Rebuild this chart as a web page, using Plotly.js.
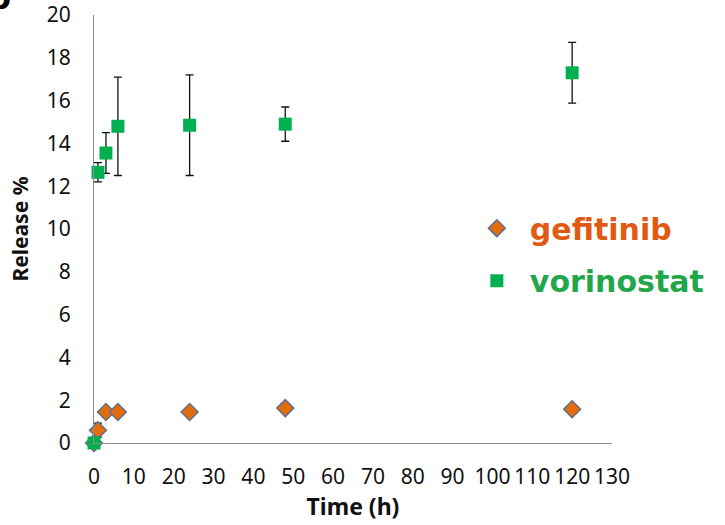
<!DOCTYPE html>
<html>
<head>
<meta charset="utf-8">
<script src="https://cdn.plot.ly/plotly-3.0.1.min.js"></script>
<style>html,body{margin:0;padding:0;background:#fff;}#chart{width:725px;height:525px;}</style>
</head>
<body>
<div id="chart"></div>
<script>
// Data
var timeH = [0, 1, 3, 6, 24, 48, 120];
var gefitinib = [0, 0.6, 1.45, 1.45, 1.45, 1.63, 1.58];
var gefitinibErr = [0, 0.33, 0.1, 0.1, 0.1, 0.1, 0.1];
var vorinostat = [0, 12.65, 13.55, 14.8, 14.85, 14.9, 17.3];
var vorinostatErr = [0, 0.45, 0.95, 2.3, 2.35, 0.8, 1.42];
var xTicks = [0, 10, 20, 30, 40, 50, 60, 70, 80, 90, 100, 110, 120, 130];
var yTicks = [0, 2, 4, 6, 8, 10, 12, 14, 16, 18, 20];

var traces = [
  {
    x: timeH, y: gefitinib, type: 'scatter', mode: 'markers', cliponaxis: false,
    name: 'gefitinib', legend: 'legend',
    marker: {symbol: 'diamond', size: 13, color: '#E46C0A', line: {color: '#5E6F8E', width: 1.5}},
    error_y: {type: 'data', array: gefitinibErr, visible: true, color: '#111', thickness: 1.3, width: 4}
  },
  {
    x: timeH, y: vorinostat, type: 'scatter', mode: 'markers', cliponaxis: false,
    name: 'vorinostat', legend: 'legend2',
    marker: {symbol: 'square', size: 13, color: '#00B050', line: {width: 0}},
    error_y: {type: 'data', array: vorinostatErr, visible: true, color: '#111', thickness: 1.3, width: 4}
  }
];

var tickFont = {family: 'Noto Sans', size: 21, color: '#111'};
var layout = {
  width: 725, height: 525,
  margin: {l: 94, r: 113, t: 15, b: 82},
  paper_bgcolor: '#fff', plot_bgcolor: '#fff',
  xaxis: {
    range: [0, 130], tickvals: xTicks, ticktext: xTicks.map(String),
    showgrid: false, zeroline: false, showline: true, linecolor: '#8c8c8c', linewidth: 1,
    ticks: 'outside', ticklen: 4, tickcolor: 'rgba(0,0,0,0)', ticklabelstandoff: 11,
    tickfont: tickFont,
    title: {text: '<b>Time (h)</b>', font: {family: 'Noto Sans', size: 23, color: '#111'}, standoff: 4}
  },
  yaxis: {
    range: [0, 20], tickvals: yTicks, ticktext: yTicks.map(String),
    showgrid: false, zeroline: false, showline: true, linecolor: '#8c8c8c', linewidth: 1,
    ticks: 'outside', ticklen: 4, tickcolor: 'rgba(0,0,0,0)', ticklabelstandoff: 14,
    tickfont: tickFont,
    title: {text: '<b>Release %</b>', font: {family: 'Noto Sans', size: 21, color: '#111'}, standoff: 12}
  },
  showlegend: true,
  legend: {
    x: 0.714, y: 0.502, xanchor: 'left', yanchor: 'middle', itemwidth: 56,
    bgcolor: 'rgba(0,0,0,0)', borderwidth: 0,
    font: {family: 'DejaVu Sans', size: 30, color: '#E05A12', weight: 'bold'}
  },
  legend2: {
    x: 0.714, y: 0.379, xanchor: 'left', yanchor: 'middle', itemwidth: 56,
    bgcolor: 'rgba(0,0,0,0)', borderwidth: 0,
    font: {family: 'DejaVu Sans', size: 30, color: '#22A64A', weight: 'bold'}
  },
  annotations: [{
    xref: 'paper', yref: 'paper', x: -0.156, y: 0.99, xanchor: 'right', yanchor: 'bottom',
    text: '<b>b</b>', showarrow: false, font: {family: 'Liberation Sans', size: 40, color: '#000'}
  }]
};

Plotly.newPlot('chart', traces, layout, {displayModeBar: false, staticPlot: true});
</script>
</body>
</html>
